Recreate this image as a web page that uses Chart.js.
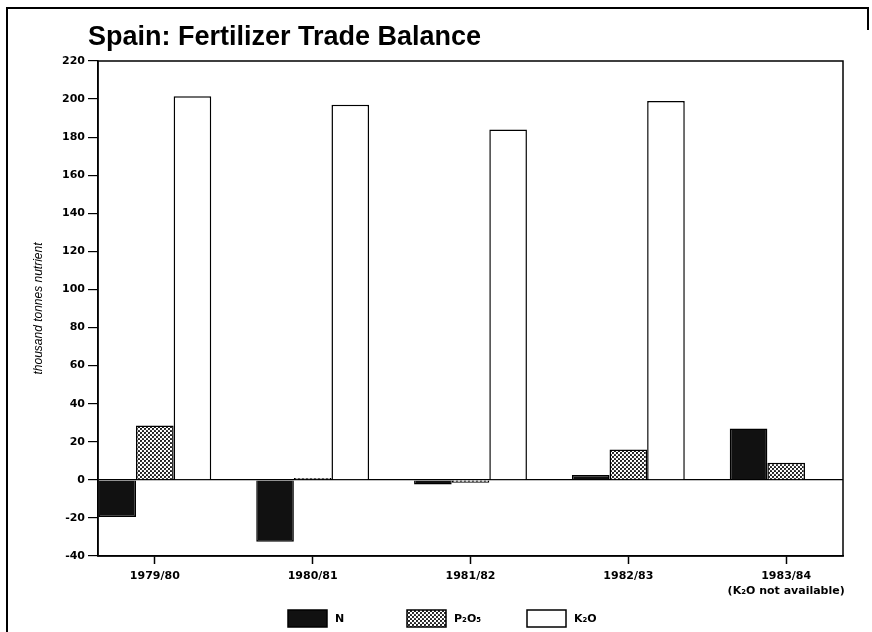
<!DOCTYPE html>
<html>
<head>
<meta charset="utf-8">
<title>Spain: Fertilizer Trade Balance</title>
<script src="https://cdn.jsdelivr.net/npm/chart.js@4.4.1/dist/chart.umd.min.js"></script>
<style>
  body { margin: 0; background: #fff; }
</style>
</head>
<body>
<canvas id="trade-chart" width="872" height="632"></canvas>
<script>
/**
 * Data
 */
const seasons = ['1979/80', '1980/81', '1981/82', '1982/83', '1983/84'];
const seasonLabels = ['1979/80', '1980/81', '1981/82', '1982/83', ['1983/84', '(K\u2082O not available)']];
const nitrogen = [-19.5, -32.5, -2.5, 2.5, 27];
const phosphate = [28.5, 1, -1.5, 16, 9];
const potash = [201.5, 197, 184, 199, null];
const yTicks = [-40, -20, 0, 20, 40, 60, 80, 100, 120, 140, 160, 180, 200, 220];

/**
 * Methods
 */
const dotPattern = () => {
  const tile = document.createElement('canvas');
  tile.width = 4;
  tile.height = 4;
  const t = tile.getContext('2d');
  t.fillStyle = '#fff';
  t.fillRect(0, 0, 4, 4);
  t.fillStyle = '#111';
  t.beginPath();
  t.arc(1, 1, 1.1, 0, Math.PI * 2);
  t.arc(3, 3, 1.1, 0, Math.PI * 2);
  t.fill();
  return t.createPattern(tile, 'repeat');
};

const toPoints = (values) => values.map((v, i) => ({ x: i, y: v }));

// frame, title and legend are drawn on top of the chart
const decorations = {
  id: 'decorations',
  afterDraw(chart) {
    const { ctx, chartArea } = chart;
    ctx.save();
    ctx.strokeStyle = '#000';
    ctx.lineWidth = 1.5;
    ctx.strokeRect(chartArea.left, chartArea.top, chartArea.right - chartArea.left, chartArea.bottom - chartArea.top);

    // outer frame
    ctx.lineWidth = 2;
    ctx.beginPath();
    ctx.moveTo(7, 632);
    ctx.lineTo(7, 8);
    ctx.lineTo(868, 8);
    ctx.lineTo(868, 30);
    ctx.stroke();

    ctx.fillStyle = '#000';
    ctx.font = 'bold 27px "Liberation Sans", Arial, sans-serif';
    ctx.textBaseline = 'alphabetic';
    ctx.fillText('Spain: Fertilizer Trade Balance', 88, 45);

    // legend
    const xs = [288, 407, 527];
    ctx.font = 'bold 11px "DejaVu Sans", sans-serif';
    ctx.textBaseline = 'middle';
    chart.data.datasets.forEach((ds, i) => {
      ctx.fillStyle = ds.backgroundColor;
      ctx.fillRect(xs[i], 610, 39, 17);
      ctx.lineWidth = 1.5;
      ctx.strokeRect(xs[i], 610, 39, 17);
      ctx.fillStyle = '#000';
      ctx.fillText(ds.label, xs[i] + 47, 619);
    });
    ctx.restore();
  }
};

const createGraphic = () => {
  const ctx = document.getElementById('trade-chart').getContext('2d');

  new Chart(ctx, {
    type: 'bar',
    data: {
      datasets: [
        {
          label: 'N',
          data: toPoints(nitrogen),
          backgroundColor: '#111',
          borderColor: '#000',
          borderWidth: 1.5
        },
        {
          label: 'P\u2082O\u2085',
          data: toPoints(phosphate),
          backgroundColor: dotPattern(),
          borderColor: '#000',
          borderWidth: 1.5
        },
        {
          label: 'K\u2082O',
          data: toPoints(potash),
          backgroundColor: '#fff',
          borderColor: '#000',
          borderWidth: 1.5
        }
      ]
    },
    options: {
      responsive: false,
      animation: false,
      categoryPercentage: 0.715,
      barPercentage: 1,
      layout: {
        padding: { top: 61, left: 20, right: 29, bottom: 0 }
      },
      plugins: {
        legend: { display: false },
        tooltip: { enabled: false }
      },
      scales: {
        x: {
          type: 'linear',
          offset: false,
          min: -0.36,
          max: 4.36,
          afterBuildTicks: (scale) => {
            scale.ticks = seasons.map((s, i) => ({ value: i }));
          },
          afterFit: (scale) => {
            scale.height = 76;
          },
          grid: {
            offset: false,
            drawOnChartArea: false,
            tickLength: 8,
            tickColor: '#000',
            tickWidth: 1.5
          },
          border: { color: '#000', width: 1.5 },
          ticks: {
            color: '#000',
            padding: 5,
            maxRotation: 0,
            font: { family: '"DejaVu Sans", sans-serif', size: 11, weight: 'bold', lineHeight: 1.35 },
            callback: (value) => seasonLabels[value]
          }
        },
        y: {
          min: -40,
          max: 220,
          afterBuildTicks: (scale) => {
            scale.ticks = yTicks.map((v) => ({ value: v }));
          },
          afterFit: (scale) => {
            scale.width = 78;
          },
          grid: {
            color: (c) => (c.tick && c.tick.value === 0 ? '#000' : 'rgba(0,0,0,0)'),
            lineWidth: 1.2,
            tickLength: 10,
            tickColor: '#000',
            tickWidth: 1.2
          },
          border: { color: '#000', width: 1.5 },
          ticks: {
            color: '#000',
            padding: 3,
            font: { family: '"DejaVu Sans", sans-serif', size: 11, weight: 'bold' }
          },
          title: {
            display: true,
            text: 'thousand tonnes nutrient',
            color: '#000',
            padding: { top: 11 },
            font: { family: '"Liberation Sans", Arial, sans-serif', size: 12, style: 'italic' }
          }
        }
      }
    },
    plugins: [decorations]
  });
};

/**
 * Events
 */
document.addEventListener('DOMContentLoaded', () => {
  createGraphic();
});
</script>
</body>
</html>
